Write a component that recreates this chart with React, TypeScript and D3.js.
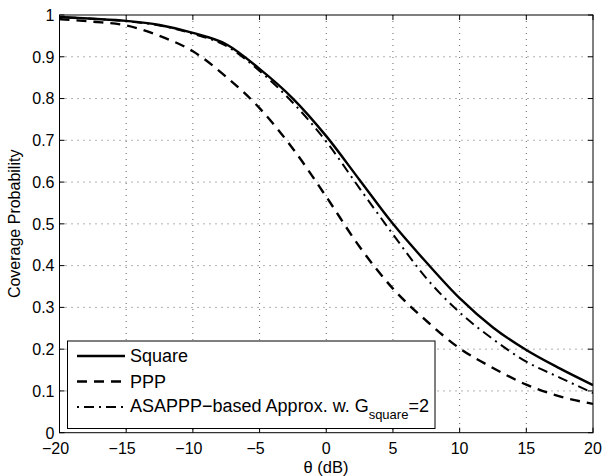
import { useEffect, useRef } from 'react'
import * as d3 from 'd3'

// theta in dB
const thetaDb = [-20, -17.5, -15, -12.5, -10, -7.5, -5, -2.5, 0, 2.5, 5, 7.5, 10, 12.5, 15, 17.5, 20]

const squareCov = [0.995, 0.991, 0.986, 0.976, 0.957, 0.93, 0.871, 0.8, 0.71, 0.605, 0.5, 0.408, 0.322, 0.252, 0.198, 0.154, 0.114]
const pppCov = [0.99, 0.984, 0.975, 0.95, 0.913, 0.852, 0.777, 0.68, 0.565, 0.445, 0.345, 0.268, 0.202, 0.155, 0.115, 0.087, 0.069]
const approxCov = [0.995, 0.991, 0.985, 0.975, 0.955, 0.926, 0.866, 0.79, 0.697, 0.585, 0.475, 0.37, 0.288, 0.224, 0.17, 0.132, 0.095]

const xTicks = [-20, -15, -10, -5, 0, 5, 10, 15, 20]
const yTicks = [0, 0.1, 0.2, 0.3, 0.4, 0.5, 0.6, 0.7, 0.8, 0.9, 1]

const series = [
  { name: 'Square', values: squareCov, dash: null as string | null, width: 2.4 },
  { name: 'PPP', values: pppCov, dash: '10,7', width: 2.4 },
  { name: 'ASAPPP', values: approxCov, dash: '2,5,10,5', width: 2 },
]

const FONT = '"Liberation Sans", Arial, Helvetica, sans-serif'

export default function App() {
  const svgRef = useRef<SVGSVGElement>(null)

  useEffect(() => {
    if (!svgRef.current) return
    const svg = d3.select(svgRef.current)
    svg.selectAll('*').remove()

    const left = 59.5, right = 593, top = 15, bottom = 432.7
    const x = d3.scaleLinear().domain([-20, 20]).range([left, right])
    const y = d3.scaleLinear().domain([0, 1]).range([bottom, top])

    svg.append('rect').attr('width', 603).attr('height', 476).attr('fill', '#fff')

    // grid
    const grid = svg.append('g').attr('stroke', '#666').attr('stroke-width', 1).attr('stroke-dasharray', '1,5')
    xTicks.slice(1, -1).forEach(t => {
      grid.append('line').attr('x1', x(t)).attr('x2', x(t)).attr('y1', top).attr('y2', bottom)
    })
    yTicks.slice(1, -1).forEach(t => {
      grid.append('line').attr('x1', left).attr('x2', right).attr('y1', y(t)).attr('y2', y(t))
    })

    // curves
    const line = d3.line<number>()
      .x((_, i) => x(thetaDb[i]))
      .y(d => y(d))
      .curve(d3.curveMonotoneX)

    const clip = svg.append('defs').append('clipPath').attr('id', 'plot-clip')
    clip.append('rect').attr('x', left).attr('y', top).attr('width', right - left).attr('height', bottom - top)

    const plot = svg.append('g').attr('clip-path', 'url(#plot-clip)')
    for (const s of series) {
      const p = plot.append('path')
        .datum(s.values)
        .attr('fill', 'none')
        .attr('stroke', '#000')
        .attr('stroke-width', s.width)
        .attr('d', line)
      if (s.dash) p.attr('stroke-dasharray', s.dash)
    }

    // ticks (inward, both sides)
    const tk = svg.append('g').attr('stroke', '#000').attr('stroke-width', 1)
    xTicks.forEach(t => {
      tk.append('line').attr('x1', x(t)).attr('x2', x(t)).attr('y1', bottom).attr('y2', bottom - 5)
      tk.append('line').attr('x1', x(t)).attr('x2', x(t)).attr('y1', top).attr('y2', top + 5)
    })
    yTicks.forEach(t => {
      tk.append('line').attr('x1', left).attr('x2', left + 5).attr('y1', y(t)).attr('y2', y(t))
      tk.append('line').attr('x1', right).attr('x2', right - 5).attr('y1', y(t)).attr('y2', y(t))
    })

    // box
    svg.append('rect')
      .attr('x', left).attr('y', top).attr('width', right - left).attr('height', bottom - top)
      .attr('fill', 'none').attr('stroke', '#000').attr('stroke-width', 1)

    // tick labels
    const labels = svg.append('g').attr('font-family', FONT).attr('font-size', 16).attr('fill', '#000')
    xTicks.forEach(t => {
      labels.append('text').attr('x', x(t) - (t < 0 ? 4 : 0)).attr('y', 454).attr('text-anchor', 'middle')
        .text(t < 0 ? `\u2212${-t}` : `${t}`)
    })
    yTicks.forEach(t => {
      labels.append('text').attr('x', 54.5).attr('y', y(t) + 5.8).attr('text-anchor', 'end')
        .text(t === 0 || t === 1 ? `${t}` : t.toFixed(1))
    })

    labels.append('text').attr('x', 326).attr('y', 473).attr('text-anchor', 'middle')
      .attr('font-size', 16.5)
      .text('\u03b8 (dB)')
    labels.append('text')
      .attr('transform', `translate(20,${(top + bottom) / 2}) rotate(-90)`)
      .attr('text-anchor', 'middle')
      .text('Coverage Probability')

    // legend
    const lg = svg.append('g')
    lg.append('rect')
      .attr('x', 67.5).attr('y', 341).attr('width', 367.5).attr('height', 87.5)
      .attr('fill', '#fff').attr('stroke', '#000').attr('stroke-width', 1)
    const rows = [356, 381.5, 407]
    series.forEach((s, i) => {
      const ln = lg.append('line')
        .attr('x1', 77).attr('x2', 125).attr('y1', rows[i]).attr('y2', rows[i])
        .attr('stroke', '#000').attr('stroke-width', s.width)
      if (s.dash) ln.attr('stroke-dasharray', s.dash)
    })
    const lt = lg.append('g').attr('font-family', FONT).attr('font-size', 18).attr('fill', '#000')
    lt.append('text').attr('x', 130).attr('y', rows[0] + 6).text('Square')
    lt.append('text').attr('x', 130).attr('y', rows[1] + 6).text('PPP')
    const t3 = lt.append('text').attr('x', 130).attr('y', rows[2] + 5)
    t3.append('tspan').text('ASAPPP\u2212based Approx. w. G')
    t3.append('tspan').attr('font-size', 13).attr('dy', 7).text('square')
    t3.append('tspan').attr('dy', -7).text('=2')
  }, [])

  return (
    <svg
      ref={svgRef}
      width={603}
      height={476}
      style={{ position: 'absolute', left: 0, top: 0 }}
    />
  )
}
